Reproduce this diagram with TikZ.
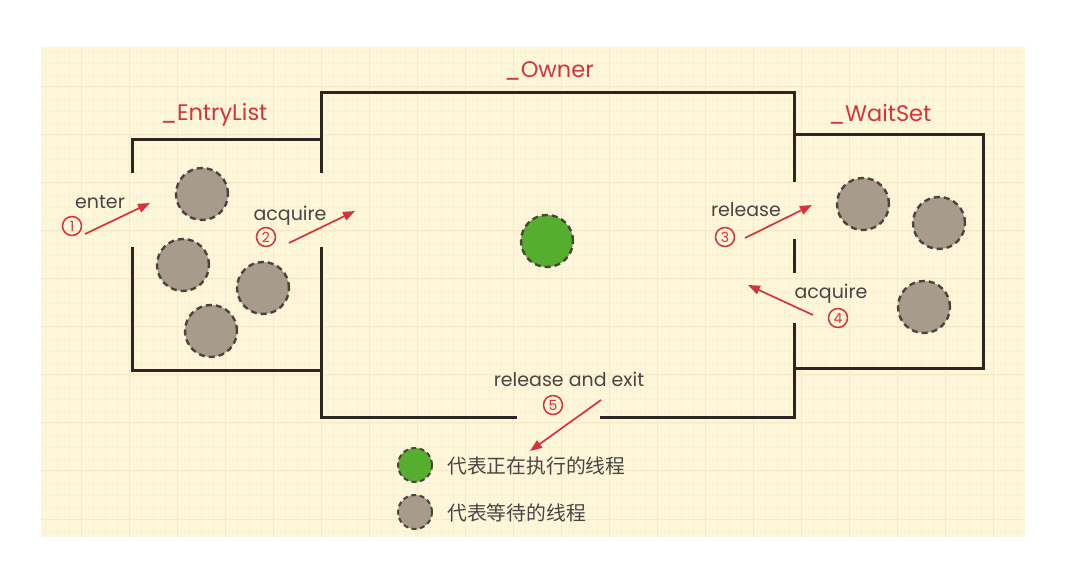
\documentclass[tikz,border=0pt]{standalone}
\usepackage{fontspec}
\setmainfont{Poppins}
\newfontfamily\cjk{Noto Sans CJK SC}
\usetikzlibrary{arrows.meta}
\definecolor{bgcream}{HTML}{FDF6D9}
\definecolor{gridmaj}{HTML}{F5E9C6}
\definecolor{gridmin}{HTML}{FAF1D3}
\definecolor{lblred}{HTML}{D6333B}
\definecolor{boxline}{HTML}{2B2622}
\definecolor{waitgrey}{HTML}{A79C8B}
\definecolor{dashgrey}{HTML}{4A443C}
\definecolor{rungreen}{HTML}{55AE2E}
\definecolor{txtgrey}{HTML}{4A4444}
\begin{document}
\begin{tikzpicture}[x=1pt,y=-1pt,
  wall/.style={draw=boxline,line width=3pt,line join=miter},
  waitthread/.style={circle,fill=waitgrey,draw=dashgrey,line width=2.4pt,dash pattern=on 6pt off 4pt,minimum size=52pt,inner sep=0pt},
  runthread/.style={circle,fill=rungreen,draw=dashgrey,line width=2.4pt,dash pattern=on 6pt off 4pt,minimum size=52pt,inner sep=0pt},
  legwait/.style={waitthread,minimum size=34pt,line width=2pt,dash pattern=on 5pt off 3.5pt},
  legrun/.style={runthread,minimum size=34pt,line width=2pt,dash pattern=on 5pt off 3.5pt},
  title/.style={text=lblred,font=\fontsize{22.5}{26}\selectfont,inner sep=0pt},
  action/.style={text=txtgrey,font=\fontsize{19}{22}\selectfont,inner sep=0pt},
  num/.style={circle,draw=lblred,line width=1.5pt,text=lblred,minimum size=19pt,inner sep=0pt,font=\fontsize{14}{15}\selectfont},
  flow/.style={draw=lblred,line width=1.7pt,-{Triangle[length=12pt,width=9pt]}},
  legtext/.style={text=txtgrey,font=\cjk\fontsize{19.8}{23}\selectfont,anchor=west,inner sep=0pt}
]
\useasboundingbox (0,0) rectangle (1072,561);
\fill[white] (0,0) rectangle (1072,561);
\fill[bgcream] (41,47) rectangle (1025,537);
% grid
\begin{scope}
\clip (41,47) rectangle (1025,537);
\foreach \gx in {45,57,...,1030} {\draw[gridmin,line width=0.6pt] (\gx,47) -- (\gx,537);}
\foreach \gy in {51,63,...,540} {\draw[gridmin,line width=0.6pt] (41,\gy) -- (1025,\gy);}
\foreach \gx in {33,81,...,1030} {\draw[gridmaj,line width=1pt] (\gx,47) -- (\gx,537);}
\foreach \gy in {39,87,...,540} {\draw[gridmaj,line width=1pt] (41,\gy) -- (1025,\gy);}
\end{scope}
% walls
\draw[wall] (132,173) -- (132,140) -- (321,140);
\draw[wall] (132,247) -- (132,371) -- (321,371);
\draw[wall] (321,173) -- (321,93) -- (794,93) -- (794,182);
\draw[wall] (794,239) -- (794,273);
\draw[wall] (794,323) -- (794,418) -- (600,418);
\draw[wall] (517,418) -- (321,418) -- (321,247);
\draw[wall] (794,135) -- (983,135) -- (983,369) -- (794,369);
% titles
\node[title] (towner) at (549,71) {\_Owner};
\node[title] (tentry) at (214,115) {\_EntryList};
\node[title] (twait) at (880,114) {\_WaitSet};
% threads
\node[waitthread] (e1) at (202,194) {};
\node[waitthread] (e2) at (183,265) {};
\node[waitthread] (e3) at (263,288) {};
\node[waitthread] (e4) at (211,331) {};
\node[runthread] (own) at (547,241) {};
\node[waitthread] (w1) at (863,204) {};
\node[waitthread] (w2) at (939,223) {};
\node[waitthread] (w3) at (924,307) {};
% actions
\node[action] (a1) at (100,202) {enter};
\node[num] (n1) at (72,226) {1};
\coordinate (s1) at (85,234); \coordinate (t1) at (150,203);
\draw[flow] (s1) -- (t1);
\node[action] (a2) at (290,216) {acquire};
\node[num] (n2) at (266,237) {2};
\coordinate (s2) at (289,243); \coordinate (t2) at (355,211);
\draw[flow] (s2) -- (t2);
\node[action] (a3) at (746,210) {release};
\node[num] (n3) at (725,237) {3};
\coordinate (s3) at (745,238); \coordinate (t3) at (812,205);
\draw[flow] (s3) -- (t3);
\node[action] (a4) at (831,294) {acquire};
\node[num] (n4) at (838,318) {4};
\coordinate (s4) at (813,315); \coordinate (t4) at (748,285);
\draw[flow] (s4) -- (t4);
\node[action] (a5) at (569,379) {release and exit};
\node[num] (n5) at (553,405) {5};
\coordinate (s5) at (601,400); \coordinate (t5) at (530,451);
\draw[flow] (s5) -- (t5);
% legend
\node[legrun] (lg1) at (415,465) {};
\node[legtext] (lt1) at (447,466) {代表正在执行的线程};
\node[legwait] (lg2) at (415,512) {};
\node[legtext] (lt2) at (447,513) {代表等待的线程};
\end{tikzpicture}
\end{document}
